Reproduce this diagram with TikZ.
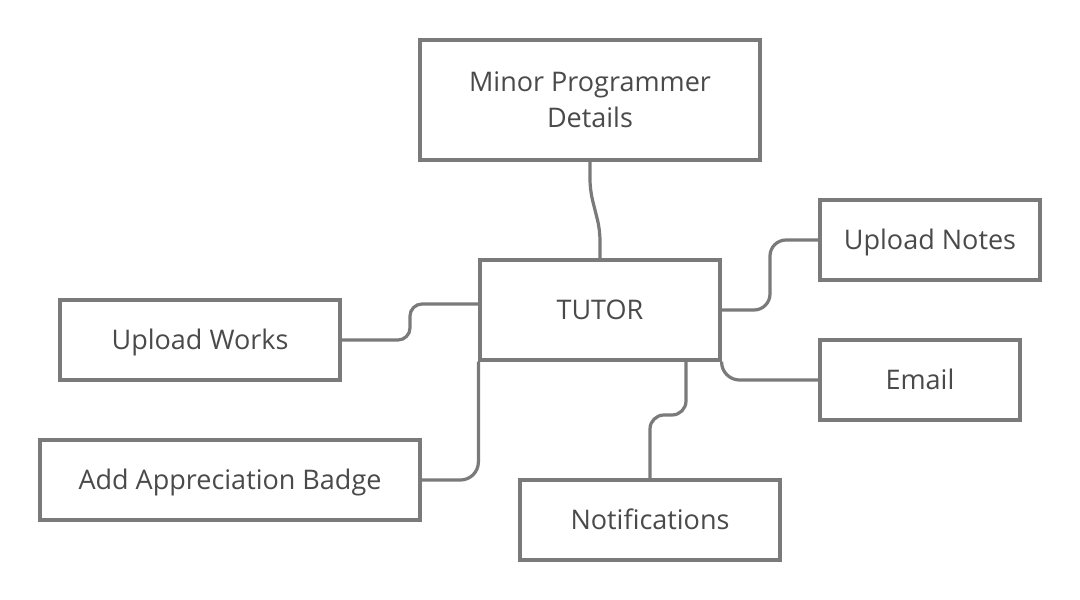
\documentclass[tikz,border=0pt]{standalone}
\usepackage{fontspec}
\setmainfont{Open Sans}
\definecolor{edge}{HTML}{7A7A7A}
\definecolor{txt}{HTML}{4A4A4A}
\begin{document}
\begin{tikzpicture}[x=1pt,y=-1pt,
  box/.style={draw=edge,line width=3.2pt,fill=white,inner sep=0pt,text=txt,
    font=\fontsize{27}{36}\selectfont,align=center},
  oneline/.style={box,text height=19.5pt,text depth=0pt},
  link/.style={draw=edge,line width=3.2pt,rounded corners=12pt}]
\useasboundingbox[fill=white] (0,0) rectangle (1080,600);
\node[box,minimum width=340pt,minimum height=120pt] (minor) at (590,100) {Minor Programmer\\Details};
\node[oneline,minimum width=240pt,minimum height=100pt] (tutor) at (600,310) {TUTOR};
\node[oneline,minimum width=280pt,minimum height=80pt] (works) at (200,340) {Upload Works};
\node[oneline,minimum width=220pt,minimum height=80pt] (notes) at (930,240) {Upload Notes};
\node[oneline,minimum width=200pt,minimum height=80pt] (email) at (920,380) {Email};
\node[oneline,minimum width=380pt,minimum height=80pt] (badge) at (230,480) {Add Appreciation Badge};
\node[oneline,minimum width=260pt,minimum height=80pt] (notif) at (650,520) {Notifications};
\draw[link,rounded corners=10pt] (minor.south) -- (590,190) -- (600,230) -- (tutor.north);
\draw[link] (works.east) -- (410,340) -- (410,304) -- ([yshift=6pt]tutor.west);
\draw[link,rounded corners=16pt] (tutor.east) -- (770,310) -- (770,240) -- (notes.west);
\draw[link,rounded corners=18pt] (tutor.south east) |- (email.west);
\draw[link,rounded corners=14pt] ([xshift=86pt]tutor.south) -- (686,415) -- (650,415) -- (notif.north);
\draw[link,rounded corners=18pt] (badge.east) -| (tutor.south west);
\end{tikzpicture}
\end{document}
